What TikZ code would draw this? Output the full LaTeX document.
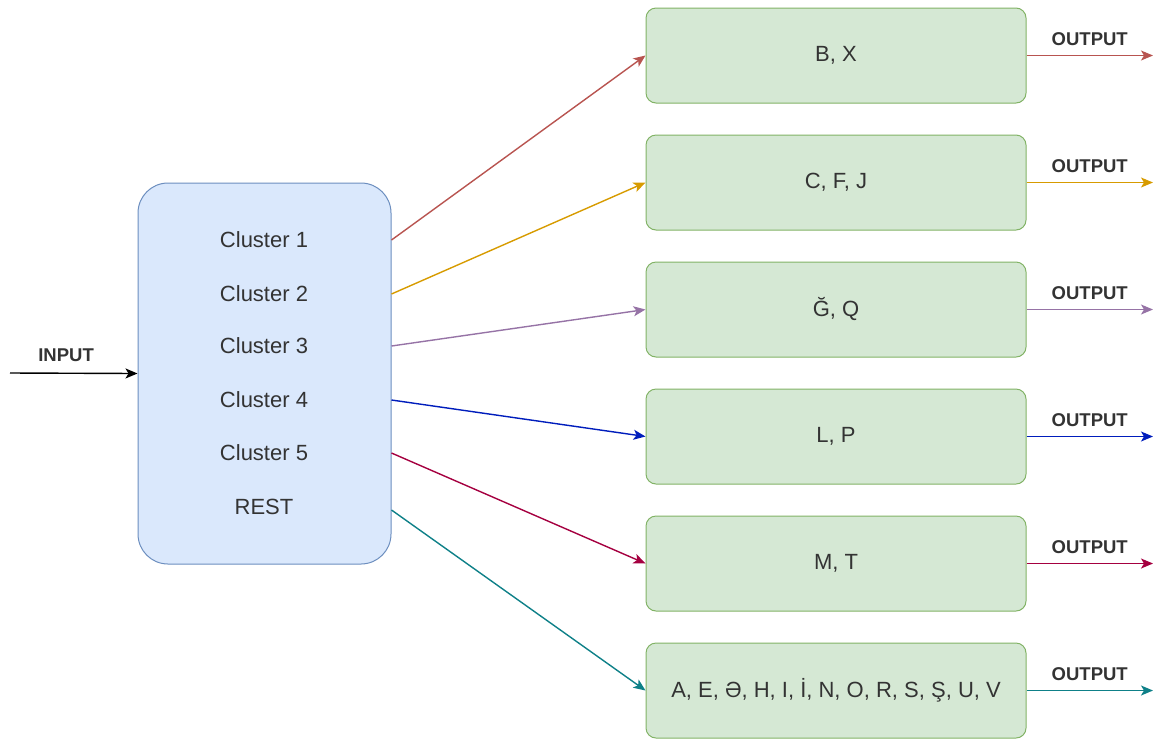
\documentclass[tikz,border=0pt]{standalone}
\usepackage{fontspec}
\setmainfont{Liberation Sans}
\usetikzlibrary{arrows.meta}
\definecolor{clusterFill}{HTML}{DAE8FC}
\definecolor{clusterLine}{HTML}{6C8EBF}
\definecolor{groupFill}{HTML}{D5E8D4}
\definecolor{groupLine}{HTML}{82B366}
\definecolor{linkRed}{HTML}{B85450}
\definecolor{linkYellow}{HTML}{D79B00}
\definecolor{linkPurple}{HTML}{9673A6}
\definecolor{linkBlue}{HTML}{001DBC}
\definecolor{linkCrimson}{HTML}{A50040}
\definecolor{linkTeal}{HTML}{0E8088}
\definecolor{txt}{HTML}{333333}

\begin{document}
\begin{tikzpicture}[x=1pt, y=-1pt, text=txt,
    font=\fontsize{22}{26}\selectfont,
    clusterbox/.style={draw=clusterLine, fill=clusterFill, line width=1pt,
        rounded corners=30pt, minimum width=253pt, minimum height=381pt},
    groupbox/.style={draw=groupLine, fill=groupFill, line width=1pt,
        rounded corners=10pt, minimum width=380pt, minimum height=95pt},
    link/.style={line width=1.4pt, -{Stealth[length=12pt,width=10pt,inset=3pt]}},
    tag/.style={font=\fontsize{18.5}{20}\selectfont\bfseries, text=txt, inner sep=3pt}]
 	\useasboundingbox (0,0) rectangle (1153,740);

 	% splitter box with its cluster list
 	\node[clusterbox] (split) at (264.5,373.5) {};
 	\node (c1) at (264,240) {Cluster 1};
 	\node (c2) at (264,294) {Cluster 2};
 	\node (c3) at (264,346) {Cluster 3};
 	\node (c4) at (264,400) {Cluster 4};
 	\node (c5) at (264,453) {Cluster 5};
 	\node (c6) at (264,507) {REST};

 	% letter groups
 	\node[groupbox] (g1) at (836,55.5) {B, X};
 	\node[groupbox] (g2) at (836,182.5) {C, F, J};
 	\node[groupbox] (g3) at (836,309.5) {Ğ, Q};
 	\node[groupbox] (g4) at (836,436.5) {L, P};
 	\node[groupbox] (g5) at (836,563.5) {M, T};
 	\node[groupbox] (g6) at (836,690.5) {A, E, Ə, H, I, İ, N, O, R, S, Ş, U, V};

 	% input
 	\coordinate (in) at (10,373);
 	\draw[link, black] (in) -- node[tag, above=8pt, pos=0.44] {INPUT} (split.west);

 	% cluster -> group
 	\draw[link, linkRed] (split.east |- c1) -- (g1.west);
 	\draw[link, linkYellow] (split.east |- c2) -- (g2.west);
 	\draw[link, linkPurple] (split.east |- c3) -- (g3.west);
 	\draw[link, linkBlue] (split.east |- c4) -- (g4.west);
 	\draw[link, linkCrimson] (split.east |- c5) -- (g5.west);
 	\draw[link, linkTeal] (split.east |- c6) ++(0,3) -- (g6.west);

 	% outputs
 	\coordinate (o1) at (1153,55.5);
 	\coordinate (o2) at (1153,182.5);
 	\coordinate (o3) at (1153,309.5);
 	\coordinate (o4) at (1153,436.5);
 	\coordinate (o5) at (1153,563.5);
 	\coordinate (o6) at (1153,690.5);
 	\draw[link, linkRed] (g1.east) -- node[tag, above=6pt] {OUTPUT} (o1);
 	\draw[link, linkYellow] (g2.east) -- node[tag, above=6pt] {OUTPUT} (o2);
 	\draw[link, linkPurple] (g3.east) -- node[tag, above=6pt] {OUTPUT} (o3);
 	\draw[link, linkBlue] (g4.east) -- node[tag, above=6pt] {OUTPUT} (o4);
 	\draw[link, linkCrimson] (g5.east) -- node[tag, above=6pt] {OUTPUT} (o5);
 	\draw[link, linkTeal] (g6.east) -- node[tag, above=6pt] {OUTPUT} (o6);
\end{tikzpicture}
\end{document}
